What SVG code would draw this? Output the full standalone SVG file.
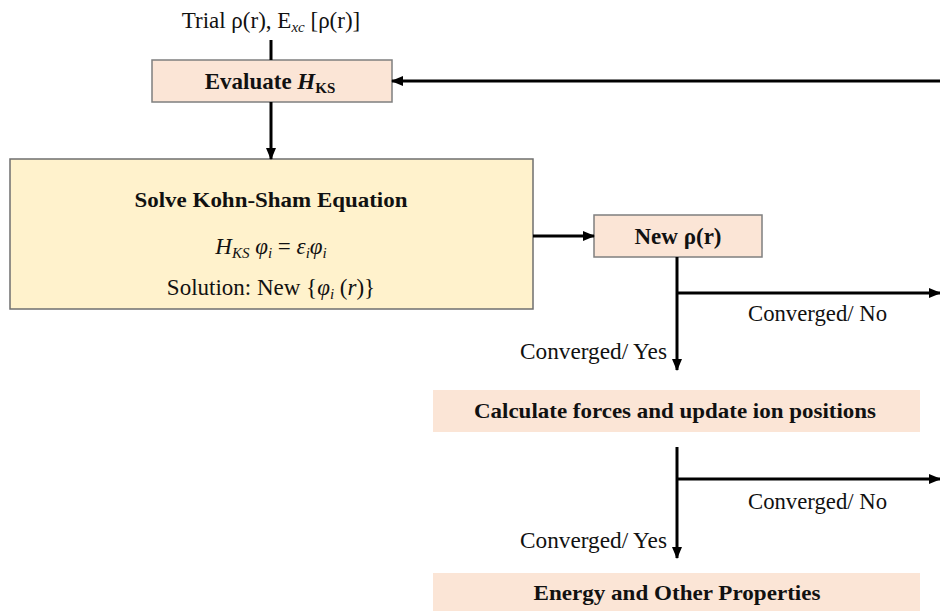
<svg xmlns="http://www.w3.org/2000/svg" width="940" height="611" viewBox="0 0 940 611">
<defs>
<marker id="ah" markerUnits="userSpaceOnUse" markerWidth="12" markerHeight="10" refX="11" refY="5" orient="auto">
<path d="M0,0 L12,5 L0,10 Z" fill="#000"/>
</marker>
<style>
.t{font-family:"Liberation Serif","Times New Roman",serif;fill:#111;}
.b{font-weight:bold;}
.i{font-style:italic;}
.c{stroke:#000;stroke-width:3;fill:none;}
.pk{fill:#FBE5D6;}
</style>
</defs>
<rect width="940" height="611" fill="#fff"/>
<g id="trial">
<text class="t" x="271" y="28" font-size="23" text-anchor="middle">Trial ρ(r), E<tspan class="i" font-size="15" dy="4">xc</tspan><tspan dy="-4"> [ρ(r)]</tspan></text>
</g>
<g id="evaluate">
<rect x="152" y="60" width="240" height="42" class="pk" stroke="#7f7f7f" stroke-width="1.5"/>
<text class="t b" x="270" y="89" font-size="23" text-anchor="middle">Evaluate <tspan class="i">H</tspan><tspan font-size="15" dy="4">KS</tspan></text>
</g>
<g id="solve">
<rect x="10" y="159" width="523" height="150" fill="#FFF2CC" stroke="#6f6f6f" stroke-width="1.5"/>
<text class="t b" x="271" y="207" font-size="22" text-anchor="middle" textLength="273" lengthAdjust="spacingAndGlyphs">Solve Kohn-Sham Equation</text>
<text class="t" x="271" y="254" font-size="23" text-anchor="middle"><tspan class="i">H</tspan><tspan class="i" font-size="15" dy="4">KS</tspan><tspan class="i" dy="-4"> φ</tspan><tspan class="i" font-size="15" dy="4">i</tspan><tspan dy="-4"> = </tspan><tspan class="i">ε</tspan><tspan class="i" font-size="15" dy="4">i</tspan><tspan class="i" dy="-4">φ</tspan><tspan class="i" font-size="15" dy="4">i</tspan></text>
<text class="t" x="271" y="295" font-size="23" text-anchor="middle">Solution: New {<tspan class="i">φ</tspan><tspan class="i" font-size="15" dy="4">i</tspan><tspan dy="-4"> (</tspan><tspan class="i">r</tspan>)}</text>
</g>
<g id="newrho">
<rect x="594" y="215" width="168" height="42" class="pk" stroke="#7f7f7f" stroke-width="1.5"/>
<text class="t b" x="678" y="244" font-size="23" text-anchor="middle">New ρ(r)</text>
</g>
<g id="calculate">
<rect x="433" y="390" width="487" height="42" class="pk"/>
<text class="t b" x="675" y="418" font-size="22" text-anchor="middle" textLength="402" lengthAdjust="spacingAndGlyphs">Calculate forces and update ion positions</text>
</g>
<g id="energy">
<rect x="433" y="573" width="487" height="38" class="pk"/>
<text class="t b" x="677" y="600" font-size="22" text-anchor="middle" textLength="287" lengthAdjust="spacingAndGlyphs">Energy and Other Properties</text>
</g>
<g id="connectors">
<line class="c" x1="271" y1="40" x2="271" y2="60"/>
<line class="c" x1="271" y1="102" x2="271" y2="159" marker-end="url(#ah)"/>
<line class="c" x1="533" y1="236" x2="594" y2="236" marker-end="url(#ah)"/>
<line class="c" x1="677" y1="257" x2="677" y2="370" marker-end="url(#ah)"/>
<line class="c" x1="677" y1="293" x2="940" y2="293" marker-end="url(#ah)"/>
<line class="c" x1="677" y1="447" x2="677" y2="558" marker-end="url(#ah)"/>
<line class="c" x1="677" y1="479" x2="940" y2="479" marker-end="url(#ah)"/>
<line class="c" x1="940" y1="81" x2="392" y2="81" marker-end="url(#ah)"/>
</g>
<g id="labels">
<text class="t" x="748" y="321" font-size="23" textLength="139" lengthAdjust="spacingAndGlyphs">Converged/ No</text>
<text class="t" x="520" y="359" font-size="23" textLength="147" lengthAdjust="spacingAndGlyphs">Converged/ Yes</text>
<text class="t" x="748" y="509" font-size="23" textLength="139" lengthAdjust="spacingAndGlyphs">Converged/ No</text>
<text class="t" x="520" y="548" font-size="23" textLength="147" lengthAdjust="spacingAndGlyphs">Converged/ Yes</text>
</g>
</svg>
